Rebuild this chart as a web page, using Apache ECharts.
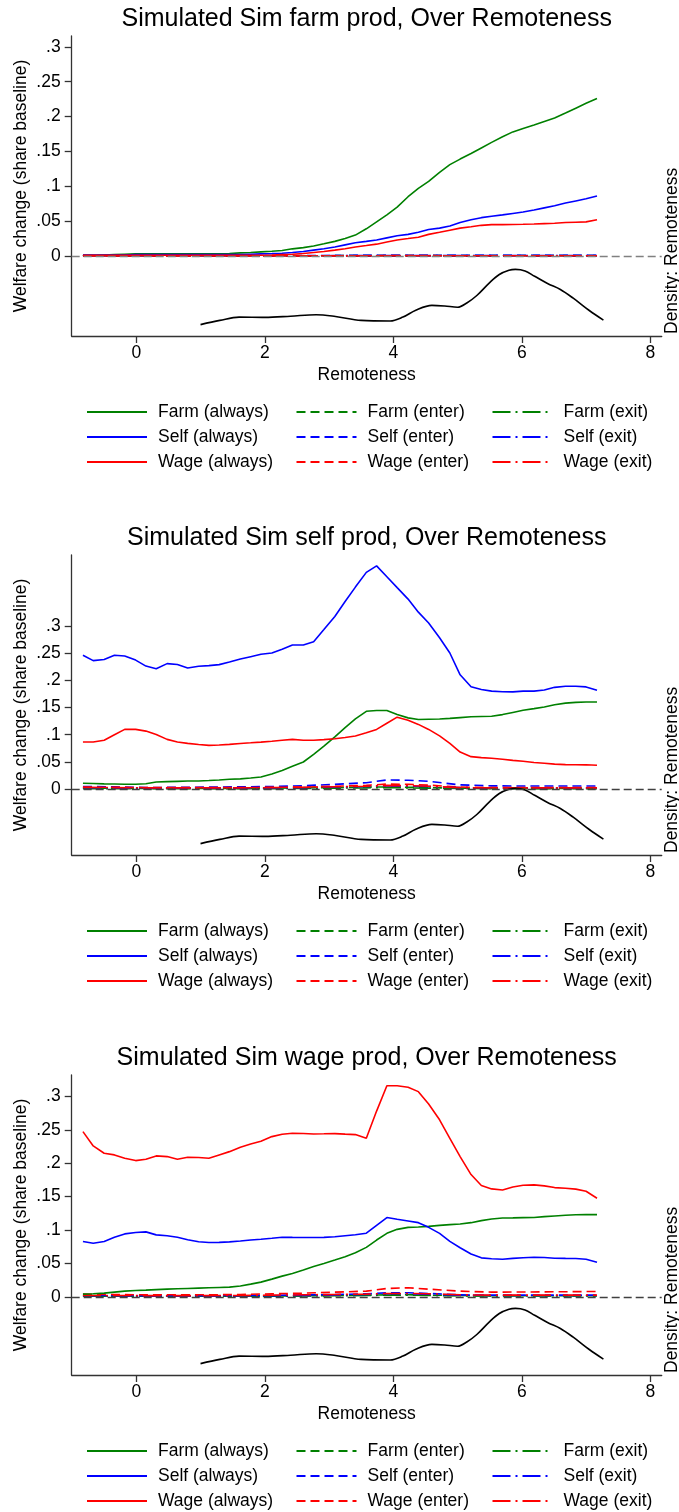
<!DOCTYPE html>
<html><head><meta charset="utf-8">
<script src="https://cdn.jsdelivr.net/npm/echarts@6/dist/echarts.min.js"></script>
<style>html,body{margin:0;padding:0;background:#fff}#c{width:679px;height:1512px}</style>
</head><body><div id="c"></div>
<script>
// ---------- DATA ----------
const remoteness = [-0.83,-0.67,-0.50,-0.34,-0.18,-0.01,0.15,0.31,0.48,0.64,0.80,0.97,1.13,1.29,1.45,1.62,1.78,1.94,2.11,2.27,2.43,2.60,2.76,2.92,3.09,3.25,3.41,3.58,3.74,3.90,4.06,4.23,4.39,4.55,4.72,4.88,5.04,5.21,5.37,5.53,5.70,5.86,6.02,6.19,6.35,6.51,6.68,6.84,7.00,7.17];

// Panel 1: Sim farm prod
const farmAlways1 = [0.001,0.001,0.0015,0.002,0.0025,0.003,0.003,0.003,0.003,0.003,0.003,0.003,0.003,0.003,0.0035,0.0045,0.005,0.006,0.0068,0.008,0.0103,0.012,0.0143,0.0175,0.021,0.025,0.030,0.039,0.049,0.059,0.070,0.085,0.097,0.107,0.120,0.131,0.139,0.147,0.155,0.163,0.171,0.178,0.183,0.188,0.193,0.198,0.205,0.212,0.219,0.226];
const selfAlways1 = [0.0015,0.0015,0.0015,0.0015,0.0015,0.002,0.002,0.002,0.002,0.002,0.002,0.002,0.002,0.002,0.002,0.002,0.0025,0.003,0.0035,0.004,0.005,0.0065,0.0085,0.0105,0.013,0.016,0.019,0.021,0.023,0.026,0.029,0.031,0.034,0.038,0.040,0.043,0.048,0.052,0.055,0.057,0.059,0.061,0.063,0.066,0.069,0.072,0.076,0.079,0.082,0.086];
const wageAlways1 = [0.001,0.001,0.001,0.001,0.001,0.001,0.001,0.001,0.001,0.001,0.001,0.001,0.001,0.001,0.001,0.001,0.001,0.001,0.0015,0.002,0.0025,0.0035,0.005,0.0065,0.0085,0.0105,0.013,0.015,0.017,0.020,0.023,0.025,0.027,0.031,0.034,0.037,0.040,0.042,0.044,0.045,0.045,0.0452,0.0455,0.046,0.0465,0.047,0.048,0.0485,0.049,0.052];

// Panel 2: Sim self prod
const farmAlways2 = [0.011,0.0105,0.0098,0.0095,0.0092,0.0091,0.010,0.0134,0.014,0.0145,0.015,0.0152,0.016,0.017,0.0183,0.019,0.0205,0.0225,0.028,0.0345,0.042,0.050,0.064,0.079,0.096,0.113,0.129,0.143,0.1445,0.1445,0.137,0.131,0.128,0.1285,0.129,0.130,0.1315,0.133,0.1335,0.134,0.137,0.141,0.145,0.148,0.151,0.155,0.158,0.1595,0.160,0.160];
const selfAlways2 = [0.246,0.236,0.238,0.246,0.2445,0.237,0.226,0.221,0.2305,0.229,0.2226,0.2256,0.2268,0.2287,0.2335,0.239,0.2433,0.2476,0.250,0.257,0.2646,0.2646,0.2707,0.293,0.317,0.3445,0.371,0.398,0.410,0.390,0.370,0.349,0.325,0.305,0.278,0.250,0.210,0.188,0.183,0.180,0.179,0.1787,0.180,0.180,0.182,0.187,0.189,0.189,0.1878,0.1817];
const wageAlways2 = [0.0866,0.0866,0.090,0.100,0.1098,0.1098,0.1067,0.1006,0.0915,0.0866,0.0841,0.082,0.0805,0.0812,0.0823,0.084,0.0852,0.0865,0.0882,0.090,0.0915,0.090,0.090,0.091,0.0927,0.095,0.0976,0.1035,0.1098,0.121,0.1323,0.1265,0.119,0.1098,0.098,0.0841,0.0683,0.0598,0.058,0.0568,0.055,0.053,0.0513,0.049,0.0476,0.046,0.0451,0.045,0.0448,0.0439];

// Panel 3: Sim wage prod
const farmAlways3 = [0.004,0.0045,0.0055,0.007,0.0085,0.0095,0.010,0.0108,0.0115,0.012,0.0125,0.013,0.0135,0.014,0.0145,0.0163,0.019,0.022,0.0265,0.031,0.035,0.040,0.0454,0.050,0.055,0.060,0.066,0.074,0.085,0.095,0.101,0.104,0.1045,0.1055,0.107,0.108,0.109,0.111,0.114,0.1165,0.118,0.1182,0.1185,0.1188,0.120,0.121,0.122,0.1228,0.123,0.123];
const selfAlways3 = [0.0828,0.0803,0.0828,0.0892,0.0942,0.0962,0.0972,0.0927,0.0915,0.0892,0.0855,0.0825,0.0813,0.0815,0.0823,0.0835,0.085,0.0862,0.0877,0.0892,0.089,0.0888,0.0887,0.089,0.090,0.0915,0.093,0.0952,0.107,0.1186,0.116,0.1135,0.111,0.104,0.095,0.083,0.0735,0.064,0.0583,0.057,0.0563,0.0575,0.0585,0.0593,0.0588,0.0578,0.0575,0.0573,0.0563,0.0518];
const wageAlways3 = [0.2473,0.2258,0.2149,0.2124,0.2074,0.2039,0.2059,0.2109,0.2099,0.2059,0.2089,0.2085,0.2074,0.2124,0.2173,0.224,0.2288,0.2328,0.2398,0.2433,0.2448,0.2445,0.2438,0.244,0.2443,0.2435,0.2428,0.2373,0.278,0.316,0.316,0.3136,0.3071,0.2886,0.265,0.2373,0.2099,0.183,0.1665,0.1615,0.160,0.1645,0.167,0.1675,0.166,0.1635,0.1625,0.1612,0.158,0.1476];

// enter / exit series (near zero), on a coarser remoteness grid
const remotenessSparse = [-0.83,-0.34,0.15,0.64,1.13,1.62,2.11,2.60,3.09,3.58,3.90,4.23,4.55,5.04,5.53,6.02,6.51,7.17];
const farmEnter1 = [0.0004,0.0004,0.0004,0.0004,0.0004,0.0004,0.0004,0.0004,0.0005,0.0005,0.0006,0.0006,0.0005,0.0005,0.0005,0.0005,0.0005,0.0005];
const farmExit1  = [0.0003,0.0003,0.0003,0.0003,0.0003,0.0003,0.0003,0.0003,0.0003,0.0004,0.0004,0.0004,0.0004,0.0004,0.0004,0.0004,0.0004,0.0004];
const selfEnter1 = [0.0006,0.0006,0.0006,0.0006,0.0006,0.0006,0.0006,0.0007,0.0008,0.0009,0.001,0.001,0.001,0.0009,0.0009,0.0009,0.0009,0.0009];
const selfExit1  = [0.0004,0.0004,0.0004,0.0004,0.0004,0.0004,0.0004,0.0004,0.0005,0.0005,0.0006,0.0006,0.0006,0.0005,0.0005,0.0005,0.0005,0.0005];
const wageEnter1 = [0.0003,0.0003,0.0003,0.0003,0.0003,0.0003,0.0003,0.0003,0.0004,0.0004,0.0005,0.0005,0.0005,0.0004,0.0004,0.0004,0.0004,0.0004];
const wageExit1  = [0.0002,0.0002,0.0002,0.0002,0.0002,0.0002,0.0002,0.0002,0.0002,0.0003,0.0003,0.0003,0.0003,0.0003,0.0003,0.0003,0.0003,0.0003];

const farmEnter2 = [0.002,0.002,0.0015,0.0015,0.0015,0.0015,0.002,0.0025,0.003,0.004,0.004,0.0035,0.003,0.002,0.0015,0.0015,0.0015,0.0015];
const farmExit2  = [0.001,0.001,0.001,0.001,0.001,0.001,0.001,0.0015,0.002,0.0025,0.003,0.0025,0.002,0.0015,0.001,0.001,0.001,0.001];
const selfEnter2 = [0.005,0.0045,0.003,0.0035,0.004,0.0045,0.005,0.0065,0.009,0.012,0.017,0.0165,0.0145,0.008,0.0062,0.006,0.006,0.006];
const selfExit2  = [0.003,0.0025,0.002,0.002,0.002,0.002,0.0025,0.003,0.004,0.005,0.006,0.0055,0.005,0.003,0.0025,0.0025,0.0025,0.0025];
const wageEnter2 = [0.004,0.0035,0.003,0.003,0.003,0.003,0.0035,0.004,0.0055,0.007,0.0095,0.009,0.0075,0.004,0.003,0.003,0.003,0.003];
const wageExit2  = [0.0035,0.003,0.0025,0.0025,0.0025,0.0025,0.003,0.0035,0.0045,0.0055,0.007,0.0065,0.0055,0.003,0.0025,0.0025,0.0025,0.0025];

const farmEnter3 = [0.001,0.001,0.001,0.001,0.001,0.001,0.0012,0.0015,0.002,0.0025,0.003,0.003,0.0025,0.002,0.0015,0.0015,0.0015,0.0015];
const farmExit3  = [0.0008,0.0008,0.0008,0.0008,0.0008,0.0008,0.001,0.0012,0.0015,0.002,0.0025,0.0025,0.002,0.0015,0.0012,0.0012,0.0012,0.0012];
const selfEnter3 = [0.002,0.002,0.0018,0.0018,0.0018,0.002,0.0022,0.0028,0.0035,0.0045,0.006,0.006,0.005,0.003,0.0025,0.0025,0.0025,0.0025];
const selfExit3  = [0.0015,0.0015,0.0014,0.0014,0.0014,0.0015,0.0017,0.002,0.0027,0.0035,0.0045,0.0045,0.004,0.0025,0.002,0.002,0.002,0.002];
const wageEnter3 = [0.004,0.0035,0.003,0.003,0.003,0.0035,0.0045,0.0055,0.007,0.0085,0.0125,0.0135,0.0115,0.0085,0.007,0.0072,0.0075,0.008];
const wageExit3  = [0.002,0.002,0.0018,0.0018,0.0018,0.002,0.0025,0.003,0.0035,0.004,0.005,0.005,0.0045,0.003,0.0025,0.0025,0.0025,0.0025];

// kernel density of remoteness (right, hidden axis)
const densityX = [1.0,1.3,1.6,2.0,2.4,2.8,3.1,3.5,3.95,4.15,4.35,4.6,4.8,5.0,5.15,5.3,5.5,5.65,5.8,5.9,6.05,6.2,6.4,6.6,6.8,7.05,7.27];
const densityY = [0.038,0.052,0.063,0.062,0.066,0.071,0.065,0.052,0.050,0.063,0.086,0.102,0.100,0.096,0.111,0.135,0.178,0.205,0.219,0.222,0.217,0.199,0.175,0.155,0.126,0.085,0.053];

const titles = ['Simulated Sim farm prod, Over Remoteness','Simulated Sim self prod, Over Remoteness','Simulated Sim wage prod, Over Remoteness'];
const xTicks = [0,2,4,6,8];
const yTicks = [0,0.05,0.1,0.15,0.2,0.25,0.3];
const yTickLabels = ['0','.05','.1','.15','.2','.25','.3'];
const legendNames = [['Farm (always)','Self (always)','Wage (always)'],['Farm (enter)','Self (enter)','Wage (enter)'],['Farm (exit)','Self (exit)','Wage (exit)']];

// ---------- LAYOUT / STYLE ----------
const FONT = "'Liberation Sans', Arial, sans-serif";
const colors = ['#008000','#0000ff','#ff0000'];
const dashTypes = ['solid',[9,5],[18,5,2,5]];
const panelTop = [36,555,1075];
const yRange = [[-0.1147,0.3155],[-0.1207,0.4299],[-0.117,0.332]];
const zeroColor = ['#808080','#404040','#404040'];
const gridLeft = 71.7, gridWidth = 590, gridHeight = 300;

const panels = [
  {always:[farmAlways1,selfAlways1,wageAlways1], enter:[farmEnter1,selfEnter1,wageEnter1], exit:[farmExit1,selfExit1,wageExit1]},
  {always:[farmAlways2,selfAlways2,wageAlways2], enter:[farmEnter2,selfEnter2,wageEnter2], exit:[farmExit2,selfExit2,wageExit2]},
  {always:[farmAlways3,selfAlways3,wageAlways3], enter:[farmEnter3,selfEnter3,wageEnter3], exit:[farmExit3,selfExit3,wageExit3]}
];

const pairs = (xs, ys) => xs.map((x, k) => [x, ys[k]]);
const axisColor = '#333';

const grid = [], xAxis = [], yAxis = [], series = [], title = [], legend = [], graphic = [];
panels.forEach((p, i) => {
  const top = panelTop[i];
  grid.push({left: gridLeft, top: top, width: gridWidth, height: gridHeight, containLabel: false});
  title.push({text: titles[i], left: gridLeft + gridWidth/2, top: top - 31, textAlign: 'center', padding: 0,
    textStyle: {fontFamily: FONT, fontSize: 25, fontWeight: 'normal', color: '#000', lineHeight: 28}});
  xAxis.push({type: 'value', gridIndex: i, min: -1.005, max: 8.177,
    name: 'Remoteness', nameLocation: 'middle', nameGap: 30,
    nameTextStyle: {fontFamily: FONT, fontSize: 17.5, color: '#000'},
    axisLine: {show: true, onZero: false, lineStyle: {color: axisColor, width: 1.3}},
    axisTick: {show: true, length: 7, customValues: xTicks, lineStyle: {color: axisColor, width: 1.3}},
    axisLabel: {customValues: xTicks, margin: 8, fontFamily: FONT, fontSize: 17.5, color: '#000'},
    splitLine: {show: false}});
  yAxis.push({type: 'value', gridIndex: i, min: yRange[i][0], max: yRange[i][1],
    axisLine: {show: true, onZero: false, lineStyle: {color: axisColor, width: 1.3}},
    axisTick: {show: true, length: 7, customValues: yTicks, lineStyle: {color: axisColor, width: 1.3}},
    axisLabel: {customValues: yTicks, margin: 11, fontFamily: FONT, fontSize: 17.5, color: '#000',
      formatter: v => { const k = yTicks.findIndex(t => Math.abs(t - v) < 1e-9); return k >= 0 ? yTickLabels[k] : ''; }},
    splitLine: {show: false}});
  yAxis.push({type: 'value', gridIndex: i, position: 'right', min: 0, max: 1, show: false, splitLine: {show: false}});

  // zero reference line
  series.push({type: 'line', name: 'zero' + i, xAxisIndex: i, yAxisIndex: 2*i, data: [], silent: true, z: 1,
    markLine: {silent: true, symbol: ['none','none'], label: {show: false}, animation: false,
      lineStyle: {color: zeroColor[i], width: 1.3, type: [8,4]}, emphasis: {disabled: true}, data: [{yAxis: 0}]}});

  const groups = [p.always, p.enter, p.exit];
  groups.forEach((g, gi) => {
    g.forEach((ys, ci) => {
      const xs = gi === 0 ? remoteness : remotenessSparse;
      series.push({type: 'line', name: legendNames[gi][ci], xAxisIndex: i, yAxisIndex: 2*i,
        data: pairs(xs, ys), symbol: 'none', showSymbol: false, animation: false, z: gi === 0 ? 3 : 2,
        color: colors[ci], lineStyle: {color: colors[ci], width: 1.6, type: dashTypes[gi]},
        emphasis: {disabled: true}});
    });
  });
  series.push({type: 'line', name: 'Density: Remoteness', xAxisIndex: i, yAxisIndex: 2*i + 1,
    data: pairs(densityX, densityY), symbol: 'none', smooth: 0.35, animation: false,
    color: '#000', lineStyle: {color: '#000', width: 1.6}, emphasis: {disabled: true}});

  const legendLeft = [86, 295.5, 491.5];
  legendNames.forEach((names, c) => {
    legend.push({orient: 'vertical', left: legendLeft[c], top: top + 367, padding: 0,
      itemWidth: 60, itemHeight: 14, itemGap: 7, selectedMode: false, data: names,
      itemStyle: {opacity: 0, borderWidth: 0},
      textStyle: {fontFamily: FONT, fontSize: 17.5, lineHeight: 18, color: '#000', padding: [0,0,0,6]}});
  });

  // left axis title
  graphic.push({type: 'text', x: 21.5, y: top + gridHeight/2, rotation: Math.PI/2,
    style: {text: 'Welfare change (share baseline)', font: '17.5px ' + FONT, fill: '#000', textAlign: 'center', textVerticalAlign: 'middle'}});
  // right (density) axis title
  graphic.push({type: 'text', x: 672, y: top + 298, rotation: Math.PI/2,
    style: {text: 'Density: Remoteness', font: '17.5px ' + FONT, fill: '#000', textAlign: 'left', textVerticalAlign: 'middle'}});
});

const chart = echarts.init(document.getElementById('c'), null, {renderer: 'canvas'});
chart.setOption({backgroundColor: '#fff', animation: false, title, legend, grid, xAxis, yAxis, series, graphic});
</script>
</body></html>
